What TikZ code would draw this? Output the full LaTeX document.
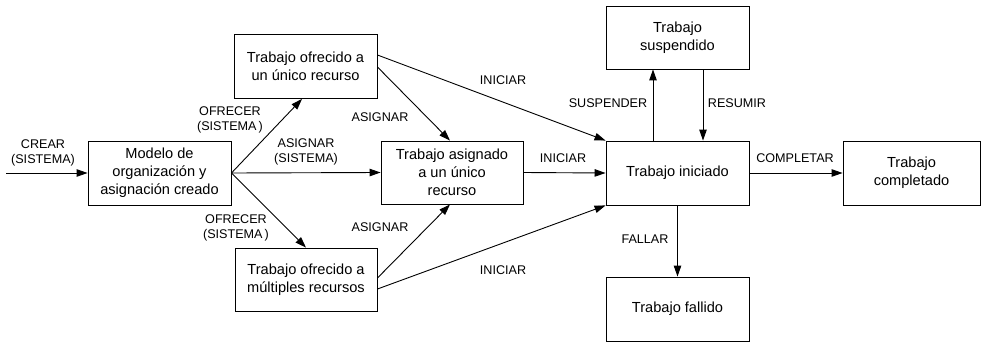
\documentclass[tikz,border=0pt]{standalone}
\usepackage{fontspec}
\setmainfont{Liberation Sans}
\usetikzlibrary{arrows.meta}
\begin{document}
\begin{tikzpicture}[x=1pt,y=-1pt,
  box/.style={draw,line width=0.9pt,minimum width=143pt,minimum height=64pt,inner sep=0pt,align=center,font=\fontsize{14.6}{18}\selectfont},
  lbl/.style={inner sep=0pt,align=center,font=\fontsize{12.6}{15}\selectfont},
  conn/.style={line width=0.9pt,-{Triangle[length=11pt,width=7.5pt]}}]
\useasboundingbox (0,0) rectangle (981,342);
\node[box] (mo) at (159.5,173) {Modelo de\\organización y\\asignación creado};
\node[box] (ou) at (305.5,66.5) {Trabajo ofrecido a\\un único recurso};
\node[box,minimum width=142pt,minimum height=63pt] (as) at (452,172.5) {Trabajo asignado\\a un único\\recurso};
\node[box,minimum width=142pt,minimum height=63pt] (mu) at (306,279.5) {Trabajo ofrecido a\\múltiples recursos};
\node[box] (in) at (677.5,173) {Trabajo iniciado};
\node[box,minimum height=63pt] (su) at (677.5,37.5) {Trabajo\\suspendido};
\node[box] (fa) at (677.5,309) {Trabajo fallido};
\node[box,minimum width=137pt] (co) at (911.5,173) {Trabajo\\completado};
\coordinate (start) at (6,173);
% connectors
\draw[conn] (start) -- (mo.west);
\draw[conn] (mo.east) -- ([xshift=-3.5pt]ou.south);
\draw[conn] (mo.east) -- (as.west);
\draw[conn] (mo.east) -- (mu.north);
\draw[conn] ([yshift=11.5pt]ou.east) -- (in.north west);
\draw[conn] ([yshift=-0.5pt]ou.east) -- ([xshift=-2pt]as.north);
\draw[conn] ([yshift=1.5pt]mu.east) -- ([xshift=-2pt]as.south);
\draw[conn] ([yshift=-9.5pt]mu.east) -- (in.south west);
\draw[conn] (as.east) -- (in.west);
\draw[conn] ([xshift=-24.5pt]in.north) -- ([xshift=-24.5pt]su.south);
\draw[conn] ([xshift=25.5pt]su.south) -- ([xshift=25.5pt]in.north);
\draw[conn] (in.east) -- (co.west);
\draw[conn] (in.south) -- (fa.north);
% labels
\node[lbl] (l1) at (43,153) {CREAR\\(SISTEMA)};
\node[lbl] (l2) at (230,120) {OFRECER\\(SISTEMA\,)};
\node[lbl] (l3) at (306,152) {ASIGNAR\\(SISTEMA)};
\node[lbl] (l4) at (236,228) {OFRECER\\(SISTEMA\,)};
\node[lbl] (l5) at (380,117) {ASIGNAR};
\node[lbl] (l6) at (503,80) {INICIAR};
\node[lbl] (l7) at (563,158) {INICIAR};
\node[lbl] (l8) at (380,227) {ASIGNAR};
\node[lbl] (l9) at (503,270) {INICIAR};
\node[lbl] (l10) at (608,103) {SUSPENDER};
\node[lbl] (l11) at (737,103) {RESUMIR};
\node[lbl] (l12) at (795,158) {COMPLETAR};
\node[lbl] (l13) at (645,239) {FALLAR};
\end{tikzpicture}
\end{document}
